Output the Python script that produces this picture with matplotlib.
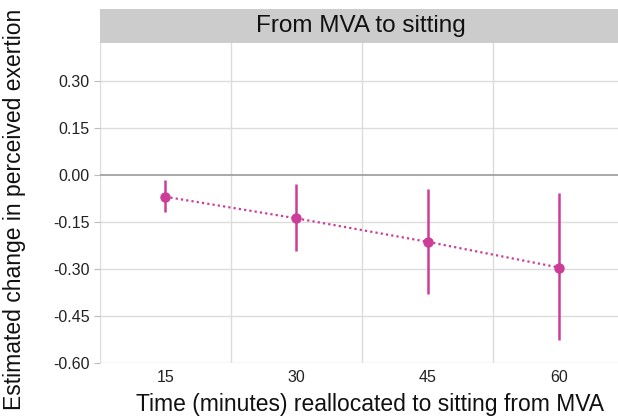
import matplotlib
matplotlib.use("Agg")
import matplotlib.pyplot as plt
from matplotlib.patches import Rectangle

plt.rcParams['font.family'] = ['Liberation Sans', 'DejaVu Sans']

minutes = ["15", "30", "45", "60"]
estimate = [-0.070, -0.139, -0.214, -0.296]
ci_low = [-0.118, -0.243, -0.382, -0.528]
ci_high = [-0.016, -0.030, -0.046, -0.059]
yticks = [0.30, 0.15, 0.00, -0.15, -0.30, -0.45, -0.60]
ytick_labels = ["0.30", "0.15", "0.00", "-0.15", "-0.30", "-0.45", "-0.60"]

W, H = 618, 416
fig = plt.figure(figsize=(W / 100, H / 100), dpi=100)
fig.patch.set_facecolor("white")

left_px, right_px = 99.5, 99.5 + 525
bottom_px, top_px = 362.7, 43.3
ax = fig.add_axes([left_px / W, (H - bottom_px) / H, (right_px - left_px) / W, (bottom_px - top_px) / H])

x = list(range(1, len(minutes) + 1))
color = "#cc3d99"

ax.set_xlim(0.5, 4.5)
ax.set_ylim(-0.60, 0.42)

# grid
for yv in yticks:
    if yv == 0:
        ax.axhline(yv, color="#9a9a9a", lw=1.2, zorder=1)
    else:
        ax.axhline(yv, color="#dcdcdc", lw=1.0, zorder=0)
for xv in [0.5, 1.5, 2.5, 3.5]:
    ax.axvline(xv, color="#dcdcdc", lw=1.0, zorder=0)

ax.plot(x, estimate, linestyle=(0, (1, 1.4)), color=color, lw=1.6, zorder=2)
yerr = [[e - l for e, l in zip(estimate, ci_low)], [h - e for e, h in zip(estimate, ci_high)]]
ax.errorbar(x, estimate, yerr=yerr, fmt="o", color=color, ms=6.5, elinewidth=1.8,
            capsize=0, zorder=3)

ax.set_yticks(yticks)
ax.set_yticklabels(ytick_labels, fontsize=11.5, color="#222222")
ax.set_xticks(x)
ax.set_xticklabels(minutes, fontsize=11.5, color="#222222")
ax.tick_params(axis="y", length=4, width=0.8, color="#bbbbbb", pad=3)
ax.tick_params(axis="x", length=0, pad=5)
for s in ax.spines.values():
    s.set_visible(False)

fig.text(370 / W, (H - 411) / H, "Time (minutes) reallocated to sitting from MVA",
         ha="center", va="baseline", fontsize=16.5, color="#111111")
fig.text(15 / W, (H - 209) / H, "Estimated change in perceived exertion", rotation=90,
         ha="center", va="center", fontsize=16.5, color="#111111")

# strip
strip_top = 9.3
fig.patches.append(Rectangle((left_px / W, (H - top_px) / H), (right_px - left_px) / W,
                             (top_px - strip_top) / H, transform=fig.transFigure,
                             facecolor="#cccccc", edgecolor="none", zorder=0))
fig.text(361 / W, (H - (strip_top + top_px) / 2) / H,
         "From MVA to sitting", ha="center", va="center", fontsize=17.5, color="#111111")

fig.savefig("out.png", dpi=100)
